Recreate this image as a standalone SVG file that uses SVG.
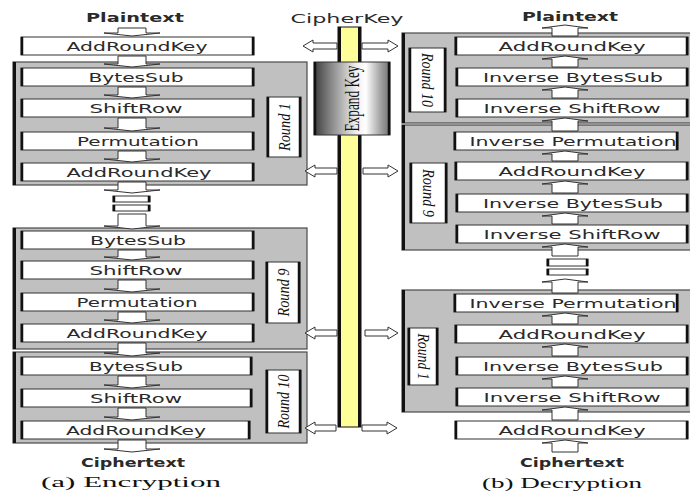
<svg xmlns="http://www.w3.org/2000/svg" width="690" height="491" viewBox="0 0 690 491">
<defs>
<linearGradient id="gx" x1="0" y1="0" x2="1" y2="0">
<stop offset="0" stop-color="#3c3c3c"/>
<stop offset="0.2" stop-color="#808080"/>
<stop offset="0.55" stop-color="#eeeeee"/>
<stop offset="0.68" stop-color="#ffffff"/>
<stop offset="0.88" stop-color="#a0a0a0"/>
<stop offset="1" stop-color="#707070"/>
</linearGradient>
<style>
.panel{fill:#c0c0c0;stroke:#4a4a4a;stroke-width:1.2}
.pedge{stroke:#111;stroke-width:3}
.box{fill:#fff;stroke:#333;stroke-width:1}
.edge{stroke:#111;stroke-width:2.5}
.t{font-family:"DejaVu Sans",Verdana,sans-serif;font-size:12px;fill:#2a2a2a;text-anchor:middle}
.h{font-family:"DejaVu Sans",Verdana,sans-serif;font-size:13px;font-weight:bold;fill:#2a2a2a;text-anchor:middle}
.lbl{font-family:"Liberation Serif","Times New Roman",serif;font-style:italic;font-size:16px;fill:#111;text-anchor:middle}
.cap{font-family:"Liberation Serif","Times New Roman",serif;font-size:15px;fill:#111;text-anchor:middle}
.arr{fill:#fff;stroke:#333;stroke-width:1}
</style>
</defs>

<!-- Encryption panels -->
<g id="enc-round1">
<rect class="panel" x="13" y="62" width="294" height="123"/>
<line class="pedge" x1="14.5" y1="62" x2="14.5" y2="185"/>
<rect class="box" x="267" y="97" width="34" height="60"/><line class="edge" x1="268" y1="97" x2="268" y2="157"/><line class="edge" x1="300" y1="97" x2="300" y2="157"/>
<text class="lbl" transform="translate(290,127) rotate(-90)" textLength="48" lengthAdjust="spacingAndGlyphs">Round 1</text>
</g>
<g id="enc-round9">
<rect class="panel" x="13" y="228" width="294" height="121"/>
<line class="pedge" x1="14.5" y1="228" x2="14.5" y2="349"/>
<rect class="box" x="266" y="262" width="34" height="61"/><line class="edge" x1="267" y1="262" x2="267" y2="323"/><line class="edge" x1="299" y1="262" x2="299" y2="323"/>
<text class="lbl" transform="translate(289,292.5) rotate(-90)" textLength="48" lengthAdjust="spacingAndGlyphs">Round 9</text>
</g>
<g id="enc-round10">
<rect class="panel" x="13" y="352" width="294" height="91"/>
<line class="pedge" x1="14.5" y1="352" x2="14.5" y2="443"/>
<rect class="box" x="266" y="370" width="35" height="63"/><line class="edge" x1="267" y1="370" x2="267" y2="433"/><line class="edge" x1="300" y1="370" x2="300" y2="433"/>
<text class="lbl" transform="translate(289,401.5) rotate(-90)" textLength="54" lengthAdjust="spacingAndGlyphs">Round 10</text>
</g>

<!-- Encryption boxes -->
<g id="enc-plaintext"><text class="h" x="135" y="22" textLength="98" lengthAdjust="spacingAndGlyphs">Plaintext</text></g>
<g id="enc-ark0"><rect class="box" x="21" y="37" width="233" height="18"/><line class="edge" x1="22" y1="37" x2="22" y2="55"/><line class="edge" x1="253" y1="37" x2="253" y2="55"/><text class="t" x="137" y="50.5" textLength="141" lengthAdjust="spacingAndGlyphs">AddRoundKey</text></g>
<g id="enc-bs1"><rect class="box" x="21" y="68" width="233" height="18"/><line class="edge" x1="22" y1="68" x2="22" y2="86"/><line class="edge" x1="253" y1="68" x2="253" y2="86"/><text class="t" x="136" y="81.5" textLength="95" lengthAdjust="spacingAndGlyphs">BytesSub</text></g>
<g id="enc-sr1"><rect class="box" x="21" y="99" width="233" height="18"/><line class="edge" x1="22" y1="99" x2="22" y2="117"/><line class="edge" x1="253" y1="99" x2="253" y2="117"/><text class="t" x="136" y="112.5" textLength="93" lengthAdjust="spacingAndGlyphs">ShiftRow</text></g>
<g id="enc-p1"><rect class="box" x="21" y="132" width="233" height="18"/><line class="edge" x1="22" y1="132" x2="22" y2="150"/><line class="edge" x1="253" y1="132" x2="253" y2="150"/><text class="t" x="138" y="145.5" textLength="122" lengthAdjust="spacingAndGlyphs">Permutation</text></g>
<g id="enc-ark1"><rect class="box" x="21" y="163" width="233" height="18"/><line class="edge" x1="22" y1="163" x2="22" y2="181"/><line class="edge" x1="253" y1="163" x2="253" y2="181"/><text class="t" x="139" y="176.5" textLength="145" lengthAdjust="spacingAndGlyphs">AddRoundKey</text></g>
<g id="enc-dots"><rect class="box" x="113" y="196" width="37" height="6"/><line class="edge" x1="114" y1="196" x2="114" y2="202"/><line class="edge" x1="149" y1="196" x2="149" y2="202"/><rect class="box" x="113" y="205" width="37" height="6"/><line class="edge" x1="114" y1="205" x2="114" y2="211"/><line class="edge" x1="149" y1="205" x2="149" y2="211"/></g>
<g id="enc-bs9"><rect class="box" x="21" y="231" width="233" height="18"/><line class="edge" x1="22" y1="231" x2="22" y2="249"/><line class="edge" x1="253" y1="231" x2="253" y2="249"/><text class="t" x="138" y="244.5" textLength="96" lengthAdjust="spacingAndGlyphs">BytesSub</text></g>
<g id="enc-sr9"><rect class="box" x="21" y="261" width="233" height="18"/><line class="edge" x1="22" y1="261" x2="22" y2="279"/><line class="edge" x1="253" y1="261" x2="253" y2="279"/><text class="t" x="136" y="274.5" textLength="93" lengthAdjust="spacingAndGlyphs">ShiftRow</text></g>
<g id="enc-p9"><rect class="box" x="21" y="293" width="233" height="18"/><line class="edge" x1="22" y1="293" x2="22" y2="311"/><line class="edge" x1="253" y1="293" x2="253" y2="311"/><text class="t" x="137" y="306.5" textLength="121" lengthAdjust="spacingAndGlyphs">Permutation</text></g>
<g id="enc-ark9"><rect class="box" x="21" y="324" width="233" height="18"/><line class="edge" x1="22" y1="324" x2="22" y2="342"/><line class="edge" x1="253" y1="324" x2="253" y2="342"/><text class="t" x="137" y="337.5" textLength="141" lengthAdjust="spacingAndGlyphs">AddRoundKey</text></g>
<g id="enc-bs10"><rect class="box" x="21" y="357" width="231" height="18"/><line class="edge" x1="22" y1="357" x2="22" y2="375"/><line class="edge" x1="251" y1="357" x2="251" y2="375"/><text class="t" x="136" y="370.5" textLength="94" lengthAdjust="spacingAndGlyphs">BytesSub</text></g>
<g id="enc-sr10"><rect class="box" x="21" y="389" width="231" height="18"/><line class="edge" x1="22" y1="389" x2="22" y2="407"/><line class="edge" x1="251" y1="389" x2="251" y2="407"/><text class="t" x="136" y="402.5" textLength="92" lengthAdjust="spacingAndGlyphs">ShiftRow</text></g>
<g id="enc-ark10"><rect class="box" x="21" y="421" width="229" height="18"/><line class="edge" x1="22" y1="421" x2="22" y2="439"/><line class="edge" x1="249" y1="421" x2="249" y2="439"/><text class="t" x="136" y="434.5" textLength="140" lengthAdjust="spacingAndGlyphs">AddRoundKey</text></g>
<g id="enc-ciphertext"><text class="h" x="133" y="467" textLength="104" lengthAdjust="spacingAndGlyphs">Ciphertext</text></g>
<g id="enc-caption"><text class="cap" x="131" y="487" textLength="180" lengthAdjust="spacingAndGlyphs">(a) Encryption</text></g>

<!-- Key schedule -->
<g id="cipherkey"><text class="t" x="347" y="23" textLength="113" lengthAdjust="spacingAndGlyphs">CipherKey</text></g>
<g id="keybar">
<rect x="338" y="27" width="23" height="400" fill="#ffff99" stroke="#111" stroke-width="1"/>
<line x1="339.5" y1="27" x2="339.5" y2="427" stroke="#111" stroke-width="3"/>
<line x1="359.5" y1="27" x2="359.5" y2="427" stroke="#111" stroke-width="3"/>
</g>
<g id="expandkey">
<rect x="314" y="62" width="76" height="73" fill="url(#gx)" stroke="#333" stroke-width="1"/>
<line x1="315" y1="62" x2="315" y2="135" stroke="#111" stroke-width="2.5"/>
<line x1="389" y1="62" x2="389" y2="135" stroke="#111" stroke-width="2.5"/>
<text transform="translate(359,98.5) rotate(-90)" font-family="'Liberation Serif','Times New Roman',serif" font-size="20" fill="#111" text-anchor="middle" textLength="66" lengthAdjust="spacingAndGlyphs">Expand Key</text>
</g>

<!-- Decryption panels -->
<g id="dec-round10">
<rect class="panel" x="402" y="33" width="292" height="90"/>
<line class="pedge" x1="403.5" y1="33" x2="403.5" y2="123"/>
<rect class="box" x="409" y="48" width="37" height="64"/><line class="edge" x1="410" y1="48" x2="410" y2="112"/><line class="edge" x1="445" y1="48" x2="445" y2="112"/>
<text class="lbl" transform="translate(422,80) rotate(90)" textLength="54" lengthAdjust="spacingAndGlyphs">Round 10</text>
</g>
<g id="dec-round9">
<rect class="panel" x="402" y="125" width="292" height="125"/>
<line class="pedge" x1="403.5" y1="125" x2="403.5" y2="250"/>
<rect class="box" x="410" y="163" width="37" height="60"/><line class="edge" x1="411" y1="163" x2="411" y2="223"/><line class="edge" x1="446" y1="163" x2="446" y2="223"/>
<text class="lbl" transform="translate(423,193) rotate(90)" textLength="48" lengthAdjust="spacingAndGlyphs">Round 9</text>
</g>
<g id="dec-round1">
<rect class="panel" x="402" y="290" width="292" height="122"/>
<line class="pedge" x1="403.5" y1="290" x2="403.5" y2="412"/>
<rect class="box" x="408" y="328" width="30" height="57"/><line class="edge" x1="409" y1="328" x2="409" y2="385"/><line class="edge" x1="437" y1="328" x2="437" y2="385"/>
<text class="lbl" transform="translate(418,356.5) rotate(90)" textLength="46" lengthAdjust="spacingAndGlyphs">Round 1</text>
</g>

<!-- Decryption boxes -->
<g id="dec-plaintext"><text class="h" x="570" y="21" textLength="96" lengthAdjust="spacingAndGlyphs">Plaintext</text></g>
<g id="dec-ark10"><rect class="box" x="455" y="37" width="233" height="18"/><line class="edge" x1="456" y1="37" x2="456" y2="55"/><line class="edge" x1="687" y1="37" x2="687" y2="55"/><text class="t" x="572" y="50.5" textLength="147" lengthAdjust="spacingAndGlyphs">AddRoundKey</text></g>
<g id="dec-ibs10"><rect class="box" x="456" y="68" width="232" height="18"/><line class="edge" x1="457" y1="68" x2="457" y2="86"/><line class="edge" x1="687" y1="68" x2="687" y2="86"/><text class="t" x="573" y="81.5" textLength="180" lengthAdjust="spacingAndGlyphs">Inverse BytesSub</text></g>
<g id="dec-isr10"><rect class="box" x="456" y="99" width="232" height="18"/><line class="edge" x1="457" y1="99" x2="457" y2="117"/><line class="edge" x1="687" y1="99" x2="687" y2="117"/><text class="t" x="572" y="112.5" textLength="177" lengthAdjust="spacingAndGlyphs">Inverse ShiftRow</text></g>
<g id="dec-ip9"><rect class="box" x="454" y="132" width="224" height="18"/><line class="edge" x1="455" y1="132" x2="455" y2="150"/><line class="edge" x1="677" y1="132" x2="677" y2="150"/><text class="t" x="573" y="145.5" textLength="207" lengthAdjust="spacingAndGlyphs">Inverse Permutation</text></g>
<g id="dec-ark9"><rect class="box" x="455" y="162" width="233" height="18"/><line class="edge" x1="456" y1="162" x2="456" y2="180"/><line class="edge" x1="687" y1="162" x2="687" y2="180"/><text class="t" x="572" y="175.5" textLength="147" lengthAdjust="spacingAndGlyphs">AddRoundKey</text></g>
<g id="dec-ibs9"><rect class="box" x="456" y="194" width="232" height="18"/><line class="edge" x1="457" y1="194" x2="457" y2="212"/><line class="edge" x1="687" y1="194" x2="687" y2="212"/><text class="t" x="573" y="207.5" textLength="180" lengthAdjust="spacingAndGlyphs">Inverse BytesSub</text></g>
<g id="dec-isr9"><rect class="box" x="456" y="225" width="232" height="18"/><line class="edge" x1="457" y1="225" x2="457" y2="243"/><line class="edge" x1="687" y1="225" x2="687" y2="243"/><text class="t" x="572" y="238.5" textLength="177" lengthAdjust="spacingAndGlyphs">Inverse ShiftRow</text></g>
<g id="dec-dots"><rect class="box" x="547" y="259" width="41" height="7"/><line class="edge" x1="548" y1="259" x2="548" y2="266"/><line class="edge" x1="587" y1="259" x2="587" y2="266"/><rect class="box" x="547" y="269" width="41" height="6"/><line class="edge" x1="548" y1="269" x2="548" y2="275"/><line class="edge" x1="587" y1="269" x2="587" y2="275"/></g>
<g id="dec-ip1"><rect class="box" x="454" y="294" width="224" height="18"/><line class="edge" x1="455" y1="294" x2="455" y2="312"/><line class="edge" x1="677" y1="294" x2="677" y2="312"/><text class="t" x="573" y="307.5" textLength="207" lengthAdjust="spacingAndGlyphs">Inverse Permutation</text></g>
<g id="dec-ark1"><rect class="box" x="455" y="325" width="233" height="18"/><line class="edge" x1="456" y1="325" x2="456" y2="343"/><line class="edge" x1="687" y1="325" x2="687" y2="343"/><text class="t" x="572" y="338.5" textLength="147" lengthAdjust="spacingAndGlyphs">AddRoundKey</text></g>
<g id="dec-ibs1"><rect class="box" x="456" y="357" width="232" height="18"/><line class="edge" x1="457" y1="357" x2="457" y2="375"/><line class="edge" x1="687" y1="357" x2="687" y2="375"/><text class="t" x="573" y="370.5" textLength="180" lengthAdjust="spacingAndGlyphs">Inverse BytesSub</text></g>
<g id="dec-isr1"><rect class="box" x="456" y="388" width="232" height="18"/><line class="edge" x1="457" y1="388" x2="457" y2="406"/><line class="edge" x1="687" y1="388" x2="687" y2="406"/><text class="t" x="572" y="401.5" textLength="177" lengthAdjust="spacingAndGlyphs">Inverse ShiftRow</text></g>
<g id="dec-ark0"><rect class="box" x="455" y="421" width="233" height="18"/><line class="edge" x1="456" y1="421" x2="456" y2="439"/><line class="edge" x1="687" y1="421" x2="687" y2="439"/><text class="t" x="572" y="434.5" textLength="147" lengthAdjust="spacingAndGlyphs">AddRoundKey</text></g>
<g id="dec-ciphertext"><text class="h" x="572" y="467" textLength="104" lengthAdjust="spacingAndGlyphs">Ciphertext</text></g>
<g id="dec-caption"><text class="cap" x="562" y="488" textLength="160" lengthAdjust="spacingAndGlyphs">(b) Decryption</text></g>

<!-- Connectors -->
<g id="connectors">
<path class="arr" d="M118,28 H146 V33 H160 L132,36 L104,33 H118 Z"/>
<path class="arr" d="M118,56 H146 V64 H160 L132,67 L104,64 H118 Z"/>
<path class="arr" d="M118,87 H146 V95 H160 L132,98 L104,95 H118 Z"/>
<path class="arr" d="M118,118 H146 V128 H160 L132,131 L104,128 H118 Z"/>
<path class="arr" d="M118,151 H146 V159 H160 L132,162 L104,159 H118 Z"/>
<path class="arr" d="M118,182 H146 V190 H160 L132,193 L104,190 H118 Z"/>
<path class="arr" d="M118,214 H146 V226 H160 L132,229 L104,226 H118 Z"/>
<path class="arr" d="M118,250 H146 V257 H160 L132,260 L104,257 H118 Z"/>
<path class="arr" d="M118,280 H146 V289 H160 L132,292 L104,289 H118 Z"/>
<path class="arr" d="M118,312 H146 V320 H160 L132,323 L104,320 H118 Z"/>
<path class="arr" d="M118,343 H146 V353 H160 L132,356 L104,353 H118 Z"/>
<path class="arr" d="M118,376 H146 V385 H160 L132,388 L104,385 H118 Z"/>
<path class="arr" d="M118,408 H146 V417 H160 L132,420 L104,417 H118 Z"/>
<path class="arr" d="M118,440 H146 V449 H160 L132,452 L104,449 H118 Z"/>
<path class="arr" d="M565,25 L588,28 H578 V36 H552 V28 H542 Z"/>
<path class="arr" d="M565,56 L588,59 H578 V67 H552 V59 H542 Z"/>
<path class="arr" d="M565,87 L588,90 H578 V98 H552 V90 H542 Z"/>
<path class="arr" d="M565,118 L588,121 H578 V131 H552 V121 H542 Z"/>
<path class="arr" d="M565,151 L588,154 H578 V161 H552 V154 H542 Z"/>
<path class="arr" d="M565,181 L588,184 H578 V193 H552 V184 H542 Z"/>
<path class="arr" d="M565,213 L588,216 H578 V224 H552 V216 H542 Z"/>
<path class="arr" d="M565,244 L588,247 H578 V256 H552 V247 H542 Z"/>
<path class="arr" d="M565,279 L588,282 H578 V293 H552 V282 H542 Z"/>
<path class="arr" d="M565,313 L588,316 H578 V324 H552 V316 H542 Z"/>
<path class="arr" d="M565,344 L588,347 H578 V356 H552 V347 H542 Z"/>
<path class="arr" d="M565,376 L588,379 H578 V387 H552 V379 H542 Z"/>
<path class="arr" d="M565,407 L588,410 H578 V420 H552 V410 H542 Z"/>
<path class="arr" d="M565,440 L588,443 H578 V452 H552 V443 H542 Z"/>
<path class="arr" d="M303,46 L313,40 V43 H337 V49 H313 V52 Z"/>
<path class="arr" d="M305,171 L315,165 V168 H337 V174 H315 V177 Z"/>
<path class="arr" d="M305,333 L315,327 V330 H337 V336 H315 V339 Z"/>
<path class="arr" d="M305,428 L315,422 V425 H336 V431 H315 V434 Z"/>
<path class="arr" d="M398,46 L388,40 V43 H362 V49 H388 V52 Z"/>
<path class="arr" d="M398,171 L388,165 V168 H363 V174 H388 V177 Z"/>
<path class="arr" d="M398,333 L388,327 V330 H365 V336 H388 V339 Z"/>
<path class="arr" d="M397,428 L387,422 V425 H362 V431 H387 V434 Z"/>
</g>
</svg>
